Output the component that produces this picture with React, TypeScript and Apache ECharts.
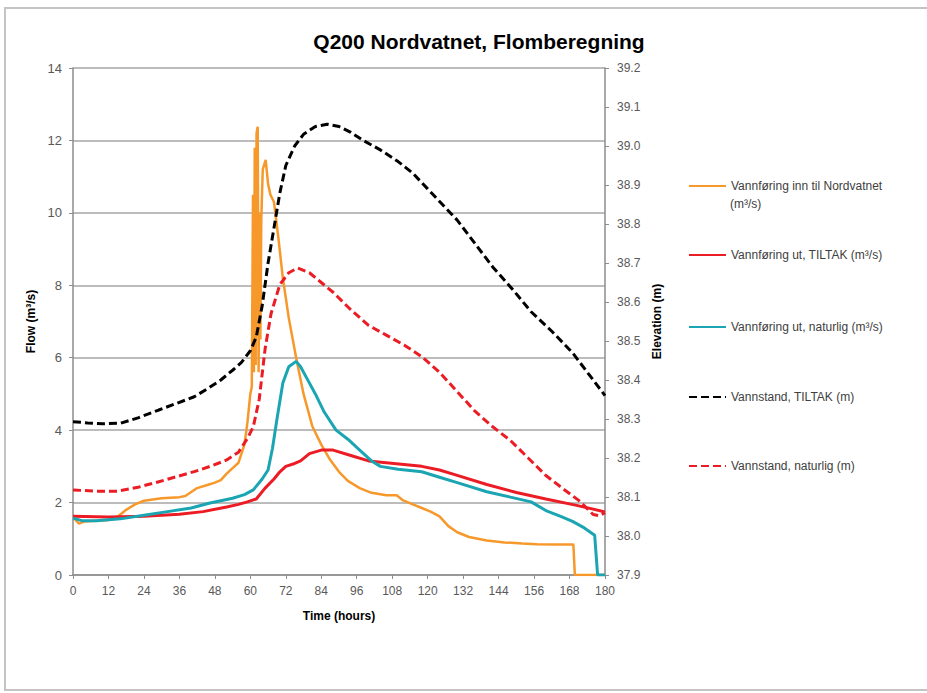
import React, { useEffect, useRef } from "react";
import * as echarts from "echarts";

const titleText = "Q200 Nordvatnet, Flomberegning";
const seriesNames = [
  "Vannføring inn til Nordvatnet (m³/s)",
  "Vannføring ut, TILTAK (m³/s)",
  "Vannføring ut, naturlig (m³/s)",
  "Vannstand, TILTAK (m)",
  "Vannstand, naturlig (m)",
];

const inflowHours = [0, 2, 4, 8, 12, 15, 18, 21, 24, 30, 36, 38, 42, 46, 48, 50, 52, 54, 56, 58, 59, 60, 60.5, 60.9, 61.2, 61.5, 61.8, 62.1, 62.5, 62.8, 63.1, 63.4, 63.7, 64.2, 65.2, 66, 66.8, 68, 69.5, 71, 73, 75.5, 78, 81, 84, 87, 90, 93, 97, 101, 106, 109.5, 111.5, 115, 118, 121, 124, 127, 130, 134, 140, 146, 152, 157, 163, 169.3, 169.8, 180];
const inflowValues = [1.6, 1.42, 1.48, 1.5, 1.52, 1.6, 1.8, 1.95, 2.05, 2.12, 2.15, 2.18, 2.4, 2.5, 2.55, 2.62, 2.8, 2.95, 3.1, 3.6, 4.2, 5.0, 5.2, 10.5, 5.6, 11.8, 5.8, 12.2, 12.38, 5.6, 10.0, 6.5, 9.8, 11.2, 11.46, 10.8, 10.5, 10.3, 9.3, 8.2, 7.1, 6.0, 5.0, 4.1, 3.6, 3.18, 2.85, 2.6, 2.4, 2.27, 2.2, 2.2, 2.07, 1.95, 1.85, 1.75, 1.62, 1.35, 1.18, 1.05, 0.95, 0.9, 0.87, 0.85, 0.84, 0.84, 0, 0];

const tiltakHours = [0, 12, 24, 36, 44, 52, 56, 59, 62, 65, 68, 70, 72, 75, 77, 80, 84, 88, 94, 100, 106, 112, 118, 124, 130, 140, 150, 160, 170, 176, 180];
const tiltakValues = [1.62, 1.6, 1.62, 1.68, 1.75, 1.88, 1.95, 2.02, 2.1, 2.4, 2.65, 2.85, 3.0, 3.08, 3.15, 3.35, 3.45, 3.45, 3.3, 3.15, 3.1, 3.05, 3.0, 2.9, 2.75, 2.5, 2.28, 2.1, 1.93, 1.82, 1.74];

const naturligHours = [0, 3, 8, 16, 24, 32, 40, 46, 50, 54, 58, 61, 64, 66, 67.5, 69, 71, 73, 75.5, 77, 79, 82, 85, 89, 93, 97, 101, 104, 110, 118, 124, 130, 140, 148, 155, 160, 165, 169, 173, 176.5, 177.5, 180];
const naturligValues = [1.57, 1.5, 1.5, 1.55, 1.65, 1.75, 1.85, 1.98, 2.05, 2.12, 2.22, 2.35, 2.65, 2.9, 3.5, 4.3, 5.3, 5.75, 5.9, 5.75, 5.45, 5.0, 4.5, 4.0, 3.75, 3.45, 3.15, 3.0, 2.92, 2.85, 2.7, 2.55, 2.3, 2.15, 2.02, 1.78, 1.62, 1.48, 1.3, 1.1, 0, 0];

const levelTiltakHours = [0, 5, 10, 16, 22, 29, 35, 41, 46, 50, 54, 57, 60, 62, 64, 66, 68, 70, 72, 75, 78, 82, 86, 90, 94, 98, 104, 110, 115, 120, 125, 130, 136, 142, 149, 155, 162, 169, 174, 180];
const levelTiltakValues = [38.293, 38.29, 38.288, 38.289, 38.303, 38.323, 38.34, 38.357, 38.38, 38.4, 38.425, 38.445, 38.475, 38.51, 38.59, 38.7, 38.79, 38.88, 38.95, 39.0, 39.03, 39.05, 39.056, 39.05, 39.035, 39.015, 38.99, 38.96, 38.93, 38.89, 38.85, 38.81, 38.75, 38.69, 38.63, 38.575, 38.525, 38.47, 38.42, 38.36];

const levelNaturligHours = [0, 8, 15, 22, 29, 35, 41, 47, 52, 56, 59, 61, 63, 65, 67, 70, 73, 76, 80, 84, 88, 94, 100, 106, 112, 118, 124, 130, 136, 142, 148, 154, 160, 166, 171, 174, 176, 178, 180];
const levelNaturligValues = [38.118, 38.115, 38.115, 38.125, 38.139, 38.152, 38.165, 38.18, 38.195, 38.215, 38.25, 38.28, 38.35, 38.48, 38.57, 38.645, 38.675, 38.687, 38.675, 38.65, 38.625, 38.58, 38.54, 38.515, 38.49, 38.46, 38.42, 38.37, 38.32, 38.28, 38.245, 38.2, 38.155, 38.12, 38.092, 38.07, 38.055, 38.052, 38.06];

const colors = ["#F7982B", "#EC1C24", "#1BA5B3", "#000000", "#EC1C24"];
const legendTops = [180, 249, 321, 391, 460];
const firstLegendLines = ["Vannføring inn til Nordvatnet", "(m³/s)"];

const pairs = (h: number[], v: number[]) => h.map((t, i) => [t, v[i]]);

const FONT = "Liberation Sans";

export default function App() {
  const ref = useRef<HTMLDivElement>(null);
  useEffect(() => {
    if (!ref.current) return;
    const chart = echarts.init(ref.current, null, { renderer: "svg" });
    const dataSets = [
      pairs(inflowHours, inflowValues),
      pairs(tiltakHours, tiltakValues),
      pairs(naturligHours, naturligValues),
      pairs(levelTiltakHours, levelTiltakValues),
      pairs(levelNaturligHours, levelNaturligValues),
    ];
    const series = seriesNames.map((name, i) => ({
      name,
      type: "line",
      yAxisIndex: i >= 3 ? 1 : 0,
      data: dataSets[i],
      symbol: "none",
      smooth: false,
      lineStyle: {
        color: colors[i],
        width: i === 0 ? 2.5 : 3,
        type: i >= 3 ? [8, 4] : "solid",
      },
      itemStyle: { color: colors[i] },
      z: 2 + i,
    }));
    const legends = seriesNames.map((name, i) => ({
      left: 688,
      top: legendTops[i],
      orient: "vertical",
      padding: 0,
      itemWidth: 37,
      itemHeight: 14,
      itemGap: 5,
      data: [name],
      itemStyle: { opacity: 0 },
      formatter: i === 0 ? () => firstLegendLines[0] : undefined,
      textStyle: {
        fontFamily: FONT,
        fontSize: 12,
        color: "#404040",
      },
      selectedMode: false,
    }));
    chart.setOption({
      animation: false,
      backgroundColor: "#ffffff",
      title: {
        text: titleText,
        left: 474,
        top: 26,
        textAlign: "center",
        textStyle: { fontFamily: FONT, fontSize: 21, fontWeight: "bold", color: "#000" },
      },
      graphic: [
        {
          type: "rect",
          shape: { x: 5, y: 8, width: 940, height: 682 },
          style: { fill: "none", stroke: "#c4c4c4", lineWidth: 2 },
          z: -1,
        },
        {
          type: "text",
          left: 730,
          top: 198,
          style: {
            text: firstLegendLines[1],
            fontFamily: FONT,
            fontSize: 12,
            fill: "#404040",
          },
        },
      ],
      legend: legends,
      grid: { left: 73, right: 322, top: 68, bottom: 118, containLabel: false },
      xAxis: {
        type: "value",
        min: 0,
        max: 180,
        interval: 12,
        name: "Time (hours)",
        nameLocation: "middle",
        nameGap: 35,
        nameTextStyle: { fontFamily: FONT, fontSize: 12, fontWeight: "bold", color: "#000" },
        axisLine: { lineStyle: { color: "#8c8c8c", width: 1.5 } },
        axisTick: { show: true, length: 4, lineStyle: { color: "#8c8c8c" } },
        axisLabel: { fontFamily: FONT, fontSize: 12, color: "#595959", margin: 10 },
        splitLine: { show: false },
      },
      yAxis: [
        {
          type: "value",
          min: 0,
          max: 14,
          interval: 2,
          name: "Flow (m³/s)",
          nameLocation: "middle",
          nameGap: 32,
          nameTextStyle: { fontFamily: FONT, fontSize: 12, fontWeight: "bold", color: "#000" },
          axisLine: { show: true, lineStyle: { color: "#8c8c8c", width: 1.5 } },
          axisTick: { show: true, length: 4, lineStyle: { color: "#8c8c8c" } },
          axisLabel: { fontFamily: FONT, fontSize: 13, color: "#595959", margin: 11 },
          splitLine: { show: true, lineStyle: { color: "#a6a6a6", width: 1.5 } },
        },
        {
          type: "value",
          min: 37.9,
          max: 39.2,
          interval: 0.1,
          position: "right",
          name: "Elevation (m)",
          nameLocation: "middle",
          nameGap: 46,
          nameRotate: 90,
          nameTextStyle: { fontFamily: FONT, fontSize: 12, fontWeight: "bold", color: "#000" },
          axisLine: { show: true, lineStyle: { color: "#8c8c8c", width: 1.5 } },
          axisTick: { show: true, length: 4, lineStyle: { color: "#8c8c8c" } },
          axisLabel: {
            fontFamily: FONT,
            fontSize: 12,
            color: "#595959",
            margin: 12,
            formatter: (v: number) => v.toFixed(1),
          },
          splitLine: { show: false },
        },
      ],
      series,
    });
    return () => chart.dispose();
  }, []);
  return <div ref={ref} style={{ width: 927, height: 693, position: "absolute", left: 0, top: 0 }} />;
}
